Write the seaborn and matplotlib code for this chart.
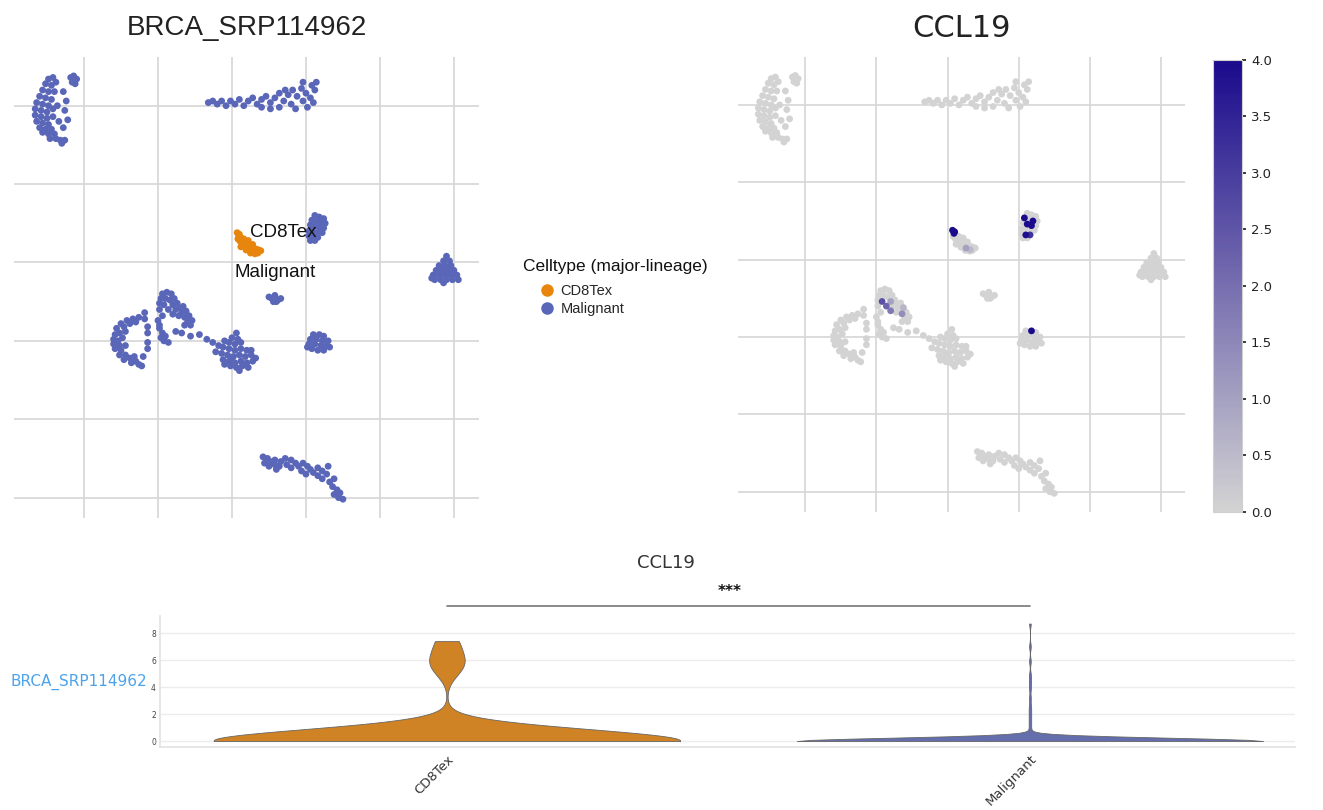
import matplotlib
matplotlib.use("Agg")
import matplotlib.pyplot as plt
from matplotlib.colors import LinearSegmentedColormap, Normalize
from matplotlib.lines import Line2D
import matplotlib.cm as cm
import seaborn as sns
import pandas as pd

sns.set_theme(style="whitegrid")

# UMAP coordinates, one list per cluster
crescent_tl = [(-7.4, 21.7), (-7.1, 21.8), (-7.6, 21.4), (-7.2, 21.3), (-6.9, 21.5), (-7.8, 21.0),
               (-7.4, 20.9), (-7.0, 20.9), (-5.7, 21.9), (-5.5, 21.7), (-5.8, 21.5), (-5.6, 21.4),
               (-5.9, 21.8), (-8.0, 20.6), (-7.6, 20.5), (-7.2, 20.4), (-8.2, 20.2), (-7.8, 20.1),
               (-7.4, 20.0), (-8.3, 19.8), (-7.9, 19.7), (-7.5, 19.6), (-7.1, 19.8), (-8.3, 19.4),
               (-7.9, 19.3), (-7.5, 19.2), (-7.1, 19.3), (-8.2, 19.0), (-7.8, 18.9), (-7.4, 18.8),
               (-8.0, 18.6), (-7.6, 18.5), (-7.2, 18.5), (-7.8, 18.3), (-7.4, 18.2), (-7.0, 18.2),
               (-7.3, 17.9), (-6.9, 17.9), (-6.6, 17.8), (-6.3, 17.8), (-6.5, 17.6), (-6.4, 20.9),
               (-6.2, 20.3), (-6.3, 19.7), (-6.1, 19.1), (-6.4, 18.6), (-6.8, 20.0), (-6.7, 19.0)]
band_top = [(3.4, 20.2), (3.7, 20.3), (4.0, 20.1), (4.3, 20.3), (4.6, 20.0), (4.9, 20.3), (5.2, 20.1),
            (5.5, 20.4), (5.8, 20.0), (6.1, 20.3), (6.4, 20.5), (6.7, 20.1), (7.0, 20.4), (7.0, 19.9),
            (7.3, 20.6), (7.6, 20.2), (7.9, 20.5), (7.6, 19.8), (8.2, 20.8), (8.5, 20.3), (8.8, 20.7),
            (8.2, 19.9), (9.1, 21.0), (9.0, 20.1), (9.4, 20.6), (9.3, 19.8), (9.7, 21.1), (9.8, 20.3),
            (10.0, 20.8), (10.1, 19.9), (10.4, 21.3), (10.3, 20.5), (10.6, 21.0), (10.7, 21.5),
            (10.5, 20.2), (8.6, 21.0), (9.8, 21.5)]
cd8tex = [(5.35, 11.9), (5.45, 11.7), (5.4, 11.5), (5.6, 11.6), (5.55, 11.35), (5.75, 11.4),
          (5.7, 11.15), (5.9, 11.3), (5.85, 11.05), (6.05, 11.2), (6.0, 10.95), (6.2, 11.1),
          (6.15, 10.85), (6.35, 11.0), (6.3, 10.75), (6.5, 10.9), (6.45, 10.7), (6.65, 10.85),
          (6.6, 10.65), (6.8, 10.8), (6.95, 10.75), (5.6, 11.0), (5.95, 10.8), (6.25, 10.6),
          (6.55, 10.55), (5.5, 11.8), (5.8, 11.5), (6.1, 11.4), (6.4, 11.15), (6.75, 10.6)]
blob_mid = [(10.6, 13.0), (10.9, 12.9), (11.2, 12.8), (10.4, 12.7), (10.7, 12.6), (11.0, 12.5),
            (11.3, 12.5), (10.3, 12.4), (10.6, 12.3), (10.9, 12.2), (11.2, 12.2), (10.2, 12.0),
            (10.5, 11.9), (10.8, 11.9), (11.1, 11.9), (10.2, 11.7), (10.5, 11.6), (10.8, 11.6),
            (10.3, 11.4), (10.6, 11.4), (10.9, 12.7), (10.4, 12.1)]
blob_right = [(19.5, 10.4), (19.3, 10.1), (19.7, 10.1), (19.0, 9.8), (19.4, 9.8), (19.8, 9.8),
              (18.8, 9.5), (19.2, 9.5), (19.6, 9.5), (20.0, 9.5), (18.6, 9.2), (19.0, 9.2),
              (19.4, 9.2), (19.8, 9.2), (20.2, 9.2), (18.7, 8.9), (19.1, 8.9), (19.5, 8.9),
              (19.9, 8.9), (20.3, 8.9), (19.3, 8.7), (18.5, 9.0)]
blob_small = [(7.5, 7.8), (7.7, 7.7), (7.9, 7.9), (8.1, 7.6), (8.3, 7.7), (8.0, 7.5), (7.8, 7.5)]
c_left = [(-0.9, 6.4), (-1.3, 6.5), (-1.7, 6.4), (-2.1, 6.3), (-2.5, 6.1), (-1.5, 6.2), (-1.9, 6.1),
          (-2.3, 5.9), (-2.8, 5.8), (-2.6, 5.5), (-2.9, 5.4), (-2.2, 5.6), (-3.0, 5.1), (-2.7, 5.0),
          (-2.4, 5.2), (-3.0, 4.8), (-2.6, 4.7), (-2.9, 4.5), (-2.5, 4.4), (-2.2, 4.7), (-2.6, 4.1),
          (-2.2, 4.1), (-2.3, 3.8), (-1.9, 3.9), (-1.8, 3.6), (-1.5, 3.7), (-1.3, 3.5), (-1.1, 3.4),
          (-1.6, 4.0), (-1.0, 4.0), (-0.7, 4.5)]
arch_mid = [(0.3, 8.0), (0.6, 8.1), (0.9, 8.0), (0.2, 7.7), (0.5, 7.7), (0.8, 7.6), (1.1, 7.7),
            (1.3, 7.4), (0.1, 7.4), (0.4, 7.3), (1.0, 7.3), (1.5, 7.1), (1.7, 7.2), (0.1, 7.0),
            (1.2, 7.0), (1.6, 6.8), (1.9, 6.9), (1.4, 6.6), (1.8, 6.5), (2.1, 6.6), (2.0, 6.2),
            (2.3, 6.3), (0.3, 6.6), (0.0, 6.3), (0.7, 7.0), (2.2, 6.0), (1.0, 6.7), (0.1, 5.8),
            (0.3, 5.5), (0.2, 5.2), (0.5, 5.3), (0.4, 5.0), (0.7, 4.9)]
trail = [(-0.9, 6.8), (-0.7, 5.9), (-0.7, 5.5), (-0.7, 4.9), (0.1, 6.0), (1.6, 5.5), (1.8, 6.0),
         (2.2, 5.3), (2.8, 5.4), (3.3, 5.1), (3.7, 4.9), (1.2, 5.6)]
blob_big = [(5.3, 5.5), (5.0, 5.2), (5.4, 5.1), (4.5, 5.0), (4.8, 4.9), (5.2, 4.8), (5.6, 4.9),
            (4.1, 4.7), (4.4, 4.6), (4.8, 4.5), (5.2, 4.4), (5.6, 4.5), (6.0, 4.4), (3.9, 4.3),
            (4.3, 4.2), (4.7, 4.1), (5.1, 4.0), (5.5, 4.1), (5.9, 4.0), (6.3, 4.1), (4.4, 3.8),
            (4.8, 3.7), (5.2, 3.6), (5.6, 3.7), (6.0, 3.6), (6.4, 3.7), (6.6, 3.9), (4.9, 3.4),
            (5.3, 3.3), (5.7, 3.4), (6.1, 3.3), (5.5, 3.1), (4.5, 3.5), (6.3, 4.4), (5.0, 3.9)]
blob_round = [(10.5, 5.4), (10.9, 5.4), (11.2, 5.3), (10.3, 5.1), (10.7, 5.1), (11.1, 5.0),
              (11.5, 5.0), (10.2, 4.8), (10.6, 4.8), (11.0, 4.7), (11.4, 4.7), (10.4, 4.5),
              (10.8, 4.4), (11.2, 4.4), (11.6, 4.6), (10.1, 4.6)]
band_bottom = [(7.1, -2.4), (7.4, -2.5), (7.2, -2.8), (7.6, -2.7), (7.9, -2.6), (7.5, -3.0),
               (7.9, -2.9), (8.3, -2.7), (8.6, -2.5), (8.2, -3.0), (8.7, -2.9), (9.0, -2.6),
               (9.3, -2.8), (9.0, -3.1), (9.5, -3.0), (9.8, -2.8), (9.7, -3.3), (10.1, -3.0),
               (10.3, -3.2), (10.0, -3.5), (10.5, -3.4), (10.8, -3.1), (10.8, -3.6), (11.1, -3.3),
               (11.1, -3.8), (11.4, -3.5), (11.5, -3.0), (11.6, -4.0), (11.9, -3.8), (11.8, -4.3),
               (12.1, -4.5), (11.9, -4.8), (12.3, -4.7), (12.2, -5.0), (12.5, -5.1), (8.0, -3.2)]

# CCL19 expression, sparse: point index -> value (all other cells are 0)
ccl19_cd8tex = {0: 7.4, 25: 6.1, 1: 5.4, 14: 1.0, 18: 0.5}
ccl19_blob_mid = {3: 8.7, 5: 7.0, 8: 5.9, 9: 4.9, 16: 3.9, 17: 3.2}
ccl19_arch_mid = {9: 2.6, 24: 2.2, 26: 1.8, 18: 1.4, 10: 1.0, 16: 0.6}
ccl19_blob_round = {1: 4.4}

cell_types = ["CD8Tex", "Malignant"]
type_colors = ["#e8850c", "#5a66b7"]
dataset = "BRCA_SRP114962"
gene = "CCL19"

clusters = [
    ("CD8Tex", cd8tex, ccl19_cd8tex),
    ("Malignant", crescent_tl, {}),
    ("Malignant", band_top, {}),
    ("Malignant", blob_mid, ccl19_blob_mid),
    ("Malignant", blob_right, {}),
    ("Malignant", blob_small, {}),
    ("Malignant", c_left, {}),
    ("Malignant", arch_mid, ccl19_arch_mid),
    ("Malignant", trail, {}),
    ("Malignant", blob_big, {}),
    ("Malignant", blob_round, ccl19_blob_round),
    ("Malignant", band_bottom, {}),
]
rows = []
for ctype, pts, expr in clusters:
    for i, (x, y) in enumerate(pts):
        rows.append({"UMAP1": x, "UMAP2": y, "celltype": ctype, gene: expr.get(i, 0.0)})
df = pd.DataFrame(rows)

palette = dict(zip(cell_types, type_colors))
cmap = LinearSegmentedColormap.from_list("grey_blue", ["#d3d3d3", "#1a0a8c"])
norm = Normalize(0, 4)

fig = plt.figure(figsize=(13.23, 8.10), dpi=100)
ax1 = fig.add_axes([0.0106, 0.3605, 0.3515, 0.569])
ax2 = fig.add_axes([0.5578, 0.368, 0.338, 0.5617])
cax = fig.add_axes([0.9169, 0.368, 0.0219, 0.558])
axv = fig.add_axes([0.121, 0.0778, 0.858, 0.1617])

arial = "Liberation Sans"

for ax in (ax1, ax2):
    ax.set_xlim(-9.73, 21.7)
    ax.set_ylim(-6.3, 23.1)
    ax.set_xticks(range(-5, 21, 5))
    ax.set_yticks(range(-5, 21, 5))
    ax.set_xticklabels([])
    ax.set_yticklabels([])
    ax.tick_params(length=0)
    ax.grid(True, color="#d6d6d6", linewidth=1.2)
    for s in ax.spines.values():
        s.set_visible(False)

sns.scatterplot(data=df, x="UMAP1", y="UMAP2", hue="celltype", palette=palette,
                s=24, linewidth=0, legend=False, ax=ax1)
ax1.set_xlabel("")
ax1.set_ylabel("")
ax1.set_title(dataset, fontsize=20, family=arial, color="#222222", pad=16)
ax1.text(8.45, 11.94, "CD8Tex", ha="center", va="center", fontsize=13.5, family=arial, color="#111111")
ax1.text(7.9, 9.33, "Malignant", ha="center", va="center", fontsize=13.5, family=arial, color="#111111")

df_sorted = df.sort_values(gene)
sns.scatterplot(data=df_sorted, x="UMAP1", y="UMAP2", hue=gene, palette=cmap, hue_norm=norm,
                s=24, linewidth=0, legend=False, ax=ax2)
ax2.set_xlabel("")
ax2.set_ylabel("")
ax2.set_title(gene, fontsize=22, family="DejaVu Sans", color="#222222", pad=14)

cb = fig.colorbar(cm.ScalarMappable(norm=norm, cmap=cmap), cax=cax)
cb.set_ticks([0, 0.5, 1, 1.5, 2, 2.5, 3, 3.5, 4])
cb.ax.tick_params(labelsize=9.5, length=3, colors="#222222")
cb.outline.set_edgecolor("#d0d0d0")
cb.outline.set_linewidth(0.8)

# legend for the cell types, title placed as its own text
fig.text(0.3953, 0.6716, "Celltype (major-lineage)", ha="left", va="center",
         fontsize=12.5, family=arial, color="#111111")
handles = [Line2D([0], [0], marker="o", linestyle="", markersize=9, markerfacecolor=c,
                  markeredgewidth=0) for c in type_colors]
fig.legend(handles, cell_types, loc="upper left", bbox_to_anchor=(0.3983, 0.6655),
           frameon=False, handlelength=1.0, handletextpad=0.4, labelspacing=0.3,
           prop={"family": arial, "size": 10.5})

sns.violinplot(data=df, x="celltype", y=gene, hue="celltype", order=cell_types, palette=palette,
               cut=0, inner=None, density_norm="width", bw_adjust=0.85, linewidth=0.6,
               linecolor="#666666", saturation=0.78, legend=False, ax=axv)
axv.set_xlim(-0.492, 1.455)
axv.set_ylim(-0.44, 9.26)
axv.set_yticks([0, 2, 4, 6, 8])
axv.grid(False, axis="x")
axv.grid(True, axis="y", color="#ececec", linewidth=1.0)
axv.tick_params(axis="y", labelsize=5.5, length=0, pad=3, labelcolor="#444444")
axv.tick_params(axis="x", labelsize=9.5, length=2, pad=2, labelcolor="#333333", color="#999999")
for lab in axv.get_xticklabels():
    lab.set_rotation(45)
    lab.set_ha("right")
    lab.set_rotation_mode("anchor")
axv.spines["top"].set_visible(False)
axv.spines["right"].set_visible(False)
axv.spines["left"].set_color("#e3e3e3")
axv.spines["bottom"].set_color("#e3e3e3")
axv.set_xlabel("")
axv.set_ylabel(dataset, rotation=0, ha="right", va="center", fontsize=11, color="#4da3ea")
axv.yaxis.set_label_coords(-0.011, 0.5)

bar_y = df[gene].max() + 1.3
axv.plot([0, 1], [bar_y, bar_y], color="#777777", linewidth=1.2, clip_on=False)
axv.text(0.485, bar_y + 1.1, "***", ha="center", va="center", fontsize=11, fontweight="bold",
         color="#111111", clip_on=False)
fig.text(0.503, 0.305, gene, ha="center", va="center", fontsize=13, color="#333333")

fig.savefig("out.png", dpi=100)
plt.close(fig)
